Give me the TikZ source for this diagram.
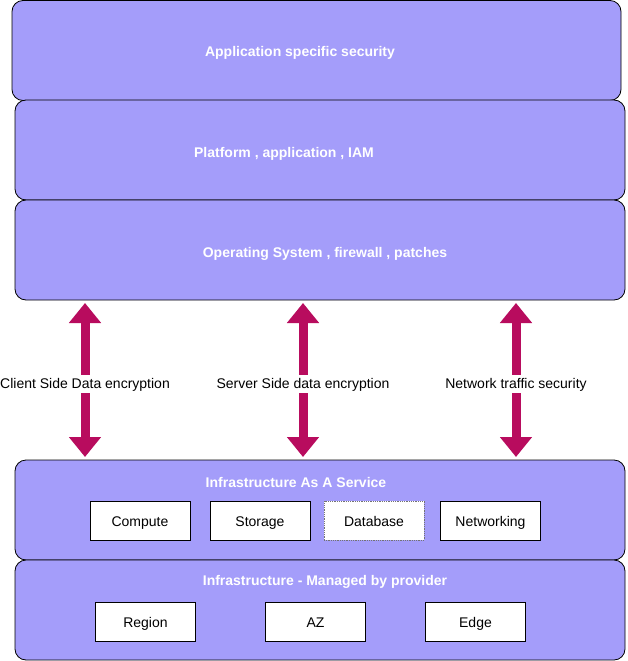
\documentclass[tikz,border=0pt]{standalone}
\usepackage{fontspec}
\setmainfont{Liberation Sans}
\usetikzlibrary{arrows.meta}
\tikzstyle{canvas} = [x = 1pt, y = -1pt]
\definecolor{layerColor}{RGB}{164,157,250}
\definecolor{arrowColor}{RGB}{184,12,94}
\newcommand{\textSize}{\fontsize{14}{16}\selectfont}
\tikzstyle{layerStyle} = [draw=black, fill=layerColor, rounded corners = 11pt, line width = .8pt, minimum height = 100pt, inner sep = 0pt]
\tikzstyle{layerText} = [font=\textSize\bfseries, text=white, text height = 11pt, text depth = 0pt]
\tikzstyle{serviceStyle} = [draw=black, fill=white, line width = .8pt, minimum width = 100pt, minimum height = 39pt, inner sep = 0pt, font=\textSize, text height = 11pt, text depth = 0pt]
\tikzstyle{dbStyle} = [serviceStyle, draw=black!55, densely dotted]
\tikzstyle{encArrow} = [draw=arrowColor, line width = 9pt, {Triangle[width=31pt, length=20pt]}-{Triangle[width=31pt, length=20pt]}]
\tikzstyle{encText} = [fill=white, inner sep = 2pt, font=\textSize, text height = 11pt, text depth = 3pt]
\newcommand{\securityLayer}[4]{\node [layerStyle, minimum width = #4pt] (#1) at (#2, #3) {};}
\newcommand{\layerTitle}[4]{\node [layerText] (#1) at (#2, #3) {#4};}
\newcommand{\serviceBox}[5]{\node [#5] (#1) at (#2, #3) {#4};}
\newcommand{\encryptionArrow}[3]{
  \coordinate (#1Top) at (#2, 303);
  \coordinate (#1Bottom) at (#2, 457);
  \draw [encArrow] (#1Top) -- (#1Bottom);
  \node [encText] (#1Label) at (#2, 384) {#3};
}
\begin{document}
\begin{tikzpicture}[canvas]
  \useasboundingbox [fill=white] (0,0) rectangle (627,661);
  % layers
  \securityLayer{app}{316.5}{50.5}{609}
  \securityLayer{platform}{320}{150}{610}
  \securityLayer{os}{320}{250}{610}
  \securityLayer{iaas}{320}{510}{610}
  \securityLayer{infra}{320}{610}{610}
  \layerTitle{appTitle}{300}{51.5}{Application specific security}
  \layerTitle{platformTitle}{284}{151.5}{Platform , application , IAM}
  \layerTitle{osTitle}{325}{251.5}{Operating System , firewall , patches}
  \layerTitle{iaasTitle}{296}{481.5}{Infrastructure As A Service}
  \layerTitle{infraTitle}{325}{579.5}{Infrastructure - Managed by provider}
  % services
  \foreach \name/\x/\label in {compute/140/Compute, storage/260/Storage, networking/490.5/Networking}
    \serviceBox{\name}{\x}{520.5}{\label}{serviceStyle};
  \serviceBox{database}{374}{520.5}{Database}{dbStyle}
  \foreach \name/\x/\label in {region/145.5/Region, az/315.5/AZ, edge/475.5/Edge}
    \serviceBox{\name}{\x}{621.5}{\label}{serviceStyle};
  % encryption
  \encryptionArrow{client}{85}{Client Side Data encryption}
  \encryptionArrow{server}{303}{Server Side data encryption}
  \encryptionArrow{network}{516}{Network traffic security}
\end{tikzpicture}
\end{document}
